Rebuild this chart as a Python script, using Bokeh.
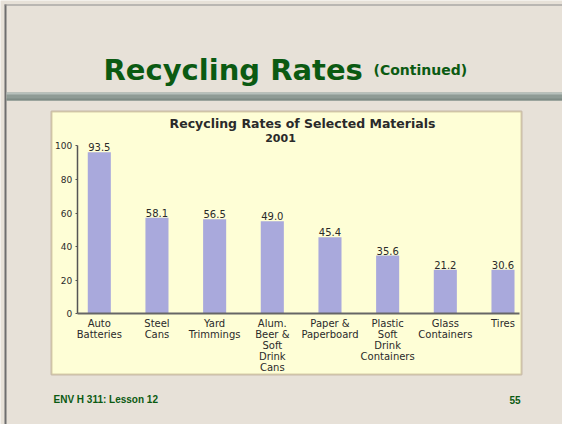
from bokeh.plotting import figure
from bokeh.models import (ColumnDataSource, FixedTicker, BoxAnnotation, Label, LabelSet)
from bokeh.core.properties import value
from bokeh.embed import file_html
from bokeh.resources import INLINE

# ---- data ----
categories = ["Auto\nBatteries", "Steel\nCans", "Yard\nTrimmings",
              "Alum.\nBeer &\nSoft\nDrink\nCans", "Paper &\nPaperboard",
              "Plastic\nSoft\nDrink\nContainers", "Glass\nContainers", "Tires"]
bar_values = [96.2, 57.1, 56.3, 55.1, 45.6, 34.7, 26.2, 26.2]
value_labels = ["93.5", "58.1", "56.5", "49.0", "45.4", "35.6", "21.2", "30.6"]
y_ticks = [0, 20, 40, 60, 80, 100]

slide_title = "Recycling Rates"
slide_subtitle = "(Continued)"
chart_title = "Recycling Rates of Selected Materials"
chart_year = "2001"
footer_left = "ENV H 311: Lesson 12"
footer_right = "55"

# ---- styles / layout ----
BG = "#e7e1d8"
PANEL = "#fefed6"
GREEN = "#0b5a12"
BAR = "#a9a9dc"
TXT = "#2a2a2a"

W, H = 562, 424
PX_X = 57.67          # px per category step
X0_PX = 98.8          # canvas px of first category centre
PX_Y = 1.68           # px per percent
Y0_PX = 313.3         # canvas px (from top) of 0 %
AXIS_LEFT_PX = 76.7
AXIS_RIGHT_PX = 519.0

x_start = -X0_PX / PX_X
x_end = x_start + W / PX_X
y_end = Y0_PX / PX_Y
y_start = y_end - H / PX_Y
axis_left = x_start + AXIS_LEFT_PX / PX_X
axis_right = x_start + AXIS_RIGHT_PX / PX_X

p = figure(width=W, height=H, output_backend="svg", toolbar_location=None,
           x_range=(x_start, x_end), y_range=(y_start, y_end),
           min_border=0, min_border_left=0, min_border_right=0,
           min_border_top=0, min_border_bottom=0)
p.title.visible = False
p.border_fill_color = BG
p.background_fill_color = BG
p.outline_line_color = None
p.xgrid.visible = False
p.ygrid.visible = False

def canvas_box(l, r, t, b, **kw):
    return BoxAnnotation(left=l, right=r, top=t, bottom=b,
                         left_units="canvas", right_units="canvas",
                         top_units="canvas", bottom_units="canvas",
                         fill_alpha=1, level="underlay", **kw)

# decorations
p.add_layout(canvas_box(4, 6, 4, H, fill_color="#6e6e6e", line_color=None))
p.add_layout(canvas_box(4, W, 4, 5, fill_color="#8c8c8c", line_color=None))
p.add_layout(canvas_box(51, 521, 111, 374, fill_color=PANEL,
                        line_color="#7d5c3c", line_width=2))
p.add_layout(canvas_box(6, W, 92, 100, fill_color="#8f9b95", line_color=None))
p.add_layout(canvas_box(6, W, 92, 94, fill_color="#b7c0bb", line_color=None))
p.add_layout(canvas_box(6, W, 98, 100, fill_color="#7f8b85", line_color=None))

def canvas_label(x, y, text, size, color, font="DejaVu Sans", align="left",
                 baseline="middle", style="bold"):
    return Label(x=x, y=y, x_units="canvas", y_units="canvas", text=text,
                 text_font=font, text_font_style=style, text_font_size=size,
                 text_color=color, text_baseline=baseline, text_align=align)

p.add_layout(canvas_label(103, 69, slide_title, "29px", GREEN, baseline="alphabetic"))
p.add_layout(canvas_label(373, 69, slide_subtitle, "14px", GREEN, baseline="alphabetic"))
p.add_layout(canvas_label(302, 122.7, chart_title, "12.5px", TXT, align="center"))
p.add_layout(canvas_label(280, 137, chart_year, "11px", TXT, align="center"))
p.add_layout(canvas_label(53, 399.4, footer_left, "10px", GREEN, font="Liberation Sans"))
p.add_layout(canvas_label(520, 399.4, footer_right, "10px", GREEN, font="Liberation Sans",
                          align="right"))

# bars
xs = list(range(len(categories)))
src = ColumnDataSource(dict(x=xs, top=bar_values, lab=value_labels))
p.vbar(x="x", top="top", width=0.4, source=src, fill_color=BAR, line_color=None)
p.add_layout(LabelSet(x="x", y="top", text="lab", source=src, y_offset=1,
                      text_align="center", text_baseline="bottom",
                      text_font=value("DejaVu Sans"), text_font_size="10px",
                      text_color=TXT))

# axes (drawn inside the frame at fixed locations)
xa = p.xaxis[0]
xa.fixed_location = 0
xa.bounds = (axis_left, axis_right)
xa.ticker = FixedTicker(ticks=xs)
xa.major_label_overrides = {i: c for i, c in zip(xs, categories)}
xa.axis_line_color = "#666666"
xa.axis_line_width = 2
xa.major_tick_out = 0
xa.major_tick_in = 0
xa.minor_tick_out = 0
xa.minor_tick_in = 0
xa.major_label_standoff = 4
xa.major_label_text_font = "DejaVu Sans"
xa.major_label_text_font_size = "10px"
xa.major_label_text_color = TXT
xa.major_label_text_line_height = 1.0

ya = p.yaxis[0]
ya.fixed_location = axis_left
ya.bounds = (y_ticks[0], y_ticks[-1])
ya.ticker = FixedTicker(ticks=y_ticks)
ya.axis_line_color = "#555555"
ya.axis_line_width = 1.5
ya.major_tick_out = 2
ya.major_tick_in = 0
ya.major_tick_line_color = "#555555"
ya.minor_tick_out = 0
ya.minor_tick_in = 0
ya.major_label_standoff = 3
ya.major_label_text_font = "DejaVu Sans"
ya.major_label_text_font_size = "9px"
ya.major_label_text_color = TXT

open("out.html", "w").write(file_html(p, INLINE))
